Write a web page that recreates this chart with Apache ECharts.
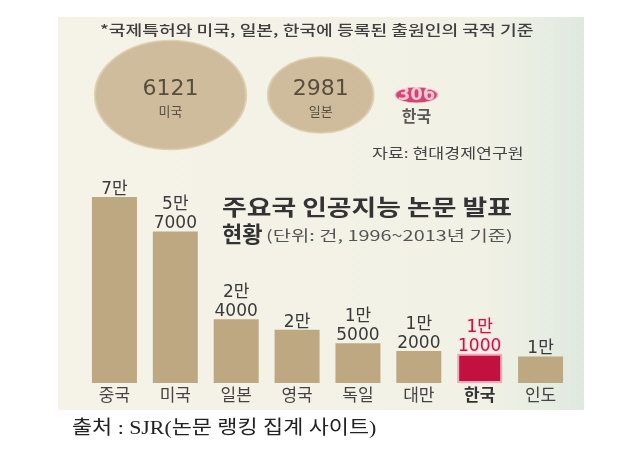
<!DOCTYPE html>
<html>
<head>
<meta charset="utf-8">
<script src="https://cdn.jsdelivr.net/npm/echarts@6/dist/echarts.min.js"></script>
<style>
html,body{margin:0;padding:0;background:#ffffff;}
#chart{width:644px;height:462px;}
</style>
</head>
<body>
<div id="chart"></div>
<script>
// ---- data ----
const categories = ['중국', '미국', '일본', '영국', '독일', '대만', '한국', '인도'];
const papers = [70000, 57000, 24000, 20000, 15000, 12000, 11000, 10000];
const patentCountries = ['미국', '일본', '한국'];
const patents = [6121, 2981, 306];
const highlight = '한국';

const noteText = '*국제특허와 미국, 일본, 한국에 등록된 출원인의 국적 기준';
const patentSource = '자료: 현대경제연구원';
const titleLine1 = '주요국 인공지능 논문 발표';
const titleLine2 = '현황';
const unitText = '(단위: 건, 1996~2013년 기준)';
const sourceText = '출처 : SJR(논문 랭킹 집계 사이트)';

// ---- build ----
const KR = "'Noto Sans CJK KR', 'Noto Sans', sans-serif";
const NUM = "'DejaVu Sans', 'Noto Sans CJK KR', sans-serif";
const TAN = '#bea882';
const RED = '#c2113f';

function manLabel(v) {
  const man = Math.floor(v / 10000);
  const rest = v % 10000;
  return rest ? man + '만\n' + rest : man + '만';
}

const barData = papers.map((v, i) => {
  const hi = categories[i] === highlight;
  return {
    value: v,
    itemStyle: hi ? { color: RED, borderColor: '#f2a9c0', borderWidth: 2 } : { color: TAN },
    label: hi ? { color: '#c8163f', textBorderColor: '#f9dbe4', textBorderWidth: 2 } : {}
  };
});

// bubbles: area proportional to value, packed left to right
const k = 1.93, aspect = 0.72, startX = 95, gap = 22;
let edge = startX;
const bubbleData = patents.map((v, i) => {
  const hi = patentCountries[i] === highlight;
  const w = k * Math.sqrt(v);
  const sw = hi ? w * 1.25 : w;
  const sh = hi ? w * 0.46 : w * aspect;
  const cx = edge + sw / 2;
  edge = edge + sw + gap;
  return {
    value: [cx, 0],
    symbolSize: [sw, sh],
    itemStyle: hi ? { color: '#c81a55', borderColor: '#f0b3c8', borderWidth: 1 }
                  : { color: '#c4ae89', borderColor: '#dacaa9', borderWidth: 2 },
    label: hi ? {
      formatter: '{n|' + v + '}\n{c|' + patentCountries[i] + '}',
      offset: [0, 12],
      rich: {
        n: { fontSize: 18, fontWeight: 'bold', color: '#ffe6ee', lineHeight: 18, fontFamily: NUM },
        c: { fontSize: 16, fontWeight: 'bold', color: '#333333', lineHeight: 24, fontFamily: KR }
      }
    } : {
      formatter: '{n|' + v + '}\n{c|' + patentCountries[i] + '}',
      offset: [0, 4],
      rich: {
        n: { fontSize: 22, color: '#3a3226', lineHeight: 24, fontFamily: NUM },
        c: { fontSize: 13, color: '#3a3226', lineHeight: 20, fontFamily: KR }
      }
    }
  };
});

function txt(left, top, text, font, fill, sx) {
  return {
    type: 'text', left: left, top: top, z: 100, silent: true,
    scaleX: sx, originX: 0,
    style: { text: text, font: font, fill: fill }
  };
}

const chart = echarts.init(document.getElementById('chart'), null, { renderer: 'canvas' });
chart.setOption({
  backgroundColor: '#ffffff',
  animation: false,
  grid: [
    { left: 84, top: 197, width: 487, height: 186 },
    { left: 0, top: 40, width: 644, height: 110 }
  ],
  xAxis: [
    {
      type: 'category', gridIndex: 0, data: categories,
      axisLine: { show: false }, axisTick: { show: false },
      axisLabel: {
        interval: 0,
        color: '#444444', fontSize: 17, margin: 3, fontFamily: KR,
        formatter: (c) => c === highlight ? '{h|' + c + '}' : c,
        rich: { h: { color: '#333333', fontSize: 17, fontWeight: 'bold', fontFamily: KR } }
      }
    },
    { type: 'value', gridIndex: 1, min: 0, max: 644, show: false }
  ],
  yAxis: [
    { type: 'value', gridIndex: 0, min: 0, max: 70000, show: false },
    { type: 'category', gridIndex: 1, data: ['patents'], show: false }
  ],
  graphic: [
    {
      type: 'rect', z: -10, silent: true,
      shape: { x: 58, y: 17, width: 526, height: 393 },
      style: {
        fill: new echarts.graphic.LinearGradient(0, 0, 1, 0, [
          { offset: 0, color: '#f5f3e8' },
          { offset: 0.8, color: '#f2f1e5' },
          { offset: 0.9, color: '#e9eee3' },
          { offset: 1, color: '#dfe9e0' }
        ])
      }
    },
    txt(100, 23, noteText, '500 14px ' + KR, '#3f3f3f', 1.3),
    txt(372, 146, patentSource, '13.5px ' + KR, '#444444', 1.28),
    txt(222, 196, titleLine1, 'bold 22px ' + KR, '#333333', 1.22),
    txt(222, 223, titleLine2, 'bold 22px ' + KR, '#333333', 1.0),
    txt(266, 228, unitText, '14.5px ' + KR, '#555555', 1.37),
    txt(72, 420, sourceText, "19px 'Liberation Serif', 'Noto Sans CJK KR', serif", '#222222', 1.15)
  ],
  series: [
    {
      type: 'bar', xAxisIndex: 0, yAxisIndex: 0,
      data: barData, barWidth: 45,
      label: {
        show: true, position: 'top', distance: -2,
        formatter: (p) => manLabel(p.value),
        color: '#3a3a3a', fontSize: 17, lineHeight: 19, fontFamily: NUM
      }
    },
    {
      type: 'scatter', xAxisIndex: 1, yAxisIndex: 1,
      symbol: 'circle',
      data: bubbleData,
      label: { show: true, position: 'inside' }
    }
  ]
});
</script>
</body>
</html>
